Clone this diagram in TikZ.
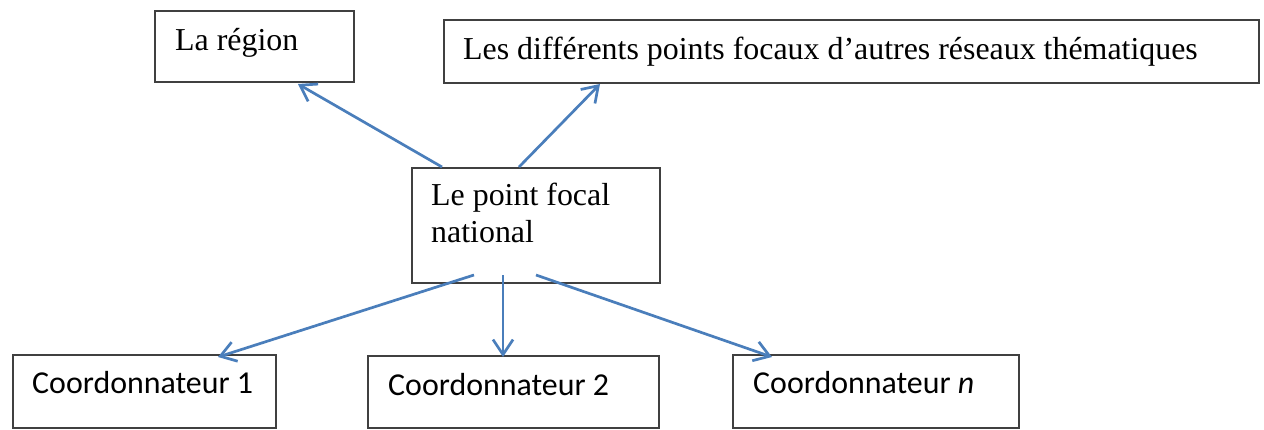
\documentclass[tikz,border=0pt]{standalone}
\usepackage{fontspec}
\setmainfont{Liberation Serif}
\newfontfamily\calfont{Carlito}
\usetikzlibrary{arrows.meta,calc}
\definecolor{boxline}{HTML}{404040}
\definecolor{arrowblue}{HTML}{4A7EBB}
\tikzset{
  box/.style={draw=boxline, line width=2pt, rectangle, inner sep=0pt, anchor=north west},
  serif/.style={anchor=base west, inner sep=0pt, font=\fontsize{31.9}{37}\selectfont},
  sans/.style={anchor=base west, inner sep=0pt, font=\calfont\fontsize{31.9}{37}\selectfont},
  link/.style={draw=arrowblue, line width=2.7pt, -{Straight Barb[length=15pt, width=20pt, line width=2.7pt]}}
}
\begin{document}
\begin{tikzpicture}[x=1pt,y=-1pt]
\useasboundingbox (0,0) rectangle (1264,429);
% boxes
\node[box, minimum width=199pt, minimum height=71pt] (reg) at (154,10) {};
\node[box, minimum width=815pt, minimum height=63pt] (oth) at (443,19) {};
\node[box, minimum width=248pt, minimum height=115pt] (pfn) at (411,167) {};
\node[box, minimum width=263pt, minimum height=73pt] (c1) at (12,354) {};
\node[box, minimum width=291pt, minimum height=72pt] (c2) at (367,355) {};
\node[box, minimum width=286pt, minimum height=73pt] (cn) at (732,354) {};
% texts
\node[serif] (treg) at (175,50) {La région};
\node[serif] (toth) at (463,59) {Les différents points focaux d’autres réseaux thématiques};
\node[serif] (tpfn1) at (431,205) {Le point focal};
\node[serif] (tpfn2) at (431,242) {national};
\node[sans] (tc1) at (32,393) {Coordonnateur 1};
\node[sans] (tc2) at (388,395) {Coordonnateur 2};
\node[sans] (tcn) at (753,393) {Coordonnateur \textit{n}};
% connector end points
\coordinate (s1) at ($(pfn.north west)+(31,0)$);
\coordinate (s2) at ($(pfn.north west)+(108,0)$);
\coordinate (s3) at ($(pfn.south west)+(63,-9)$);
\coordinate (s4) at ($(pfn.south west)+(92,-9)$);
\coordinate (s5) at ($(pfn.south west)+(125,-9)$);
\coordinate (e1) at ($(reg.south west)+(144,1)$);
\coordinate (e2) at ($(oth.south west)+(157,0)$);
\coordinate (e3) at ($(c1.north west)+(206,3)$);
\coordinate (e4) at ($(c2.north west)+(136,2)$);
\coordinate (e5) at ($(cn.north west)+(40,3)$);
% connectors
\draw[link] (s1) -- (e1);
\draw[link] (s2) -- (e2);
\draw[link] (s3) -- (e3);
\draw[link] (s4) -- (e4);
\draw[link] (s5) -- (e5);
\end{tikzpicture}
\end{document}
